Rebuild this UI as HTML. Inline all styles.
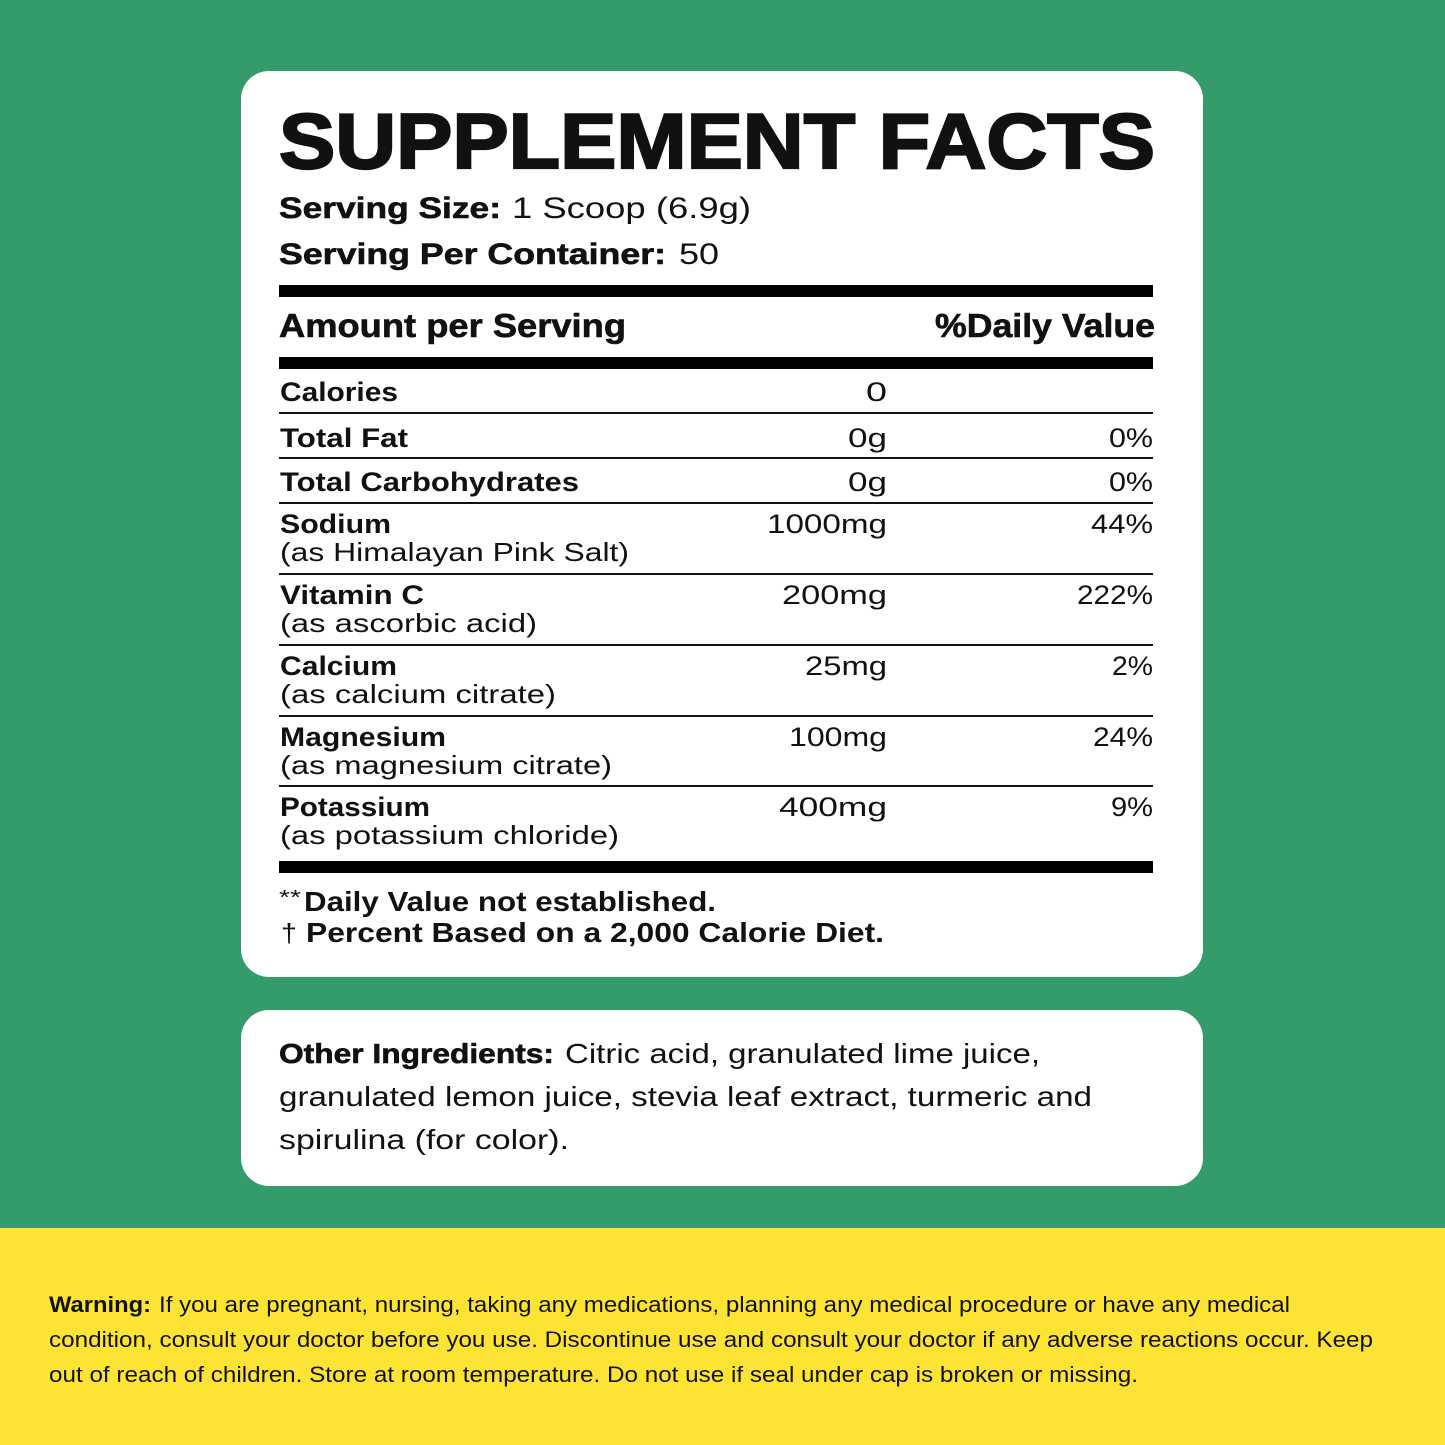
<!DOCTYPE html>
<html>
<head>
<meta charset="utf-8">
<style>
  html,body{margin:0;padding:0;background:#349b6a;}
  svg{display:block;}
  text{font-family:"Liberation Sans", "DejaVu Sans", sans-serif;fill:#111;}
  .b{font-weight:bold;}
  .t{font-weight:bold;stroke:#111;stroke-width:2.2;}
  .ob{font-weight:bold;stroke:#111;stroke-width:0.6;}
</style>
</head>
<body>
<svg width="1445" height="1445" viewBox="0 0 1445 1445" xmlns="http://www.w3.org/2000/svg">
  <rect x="0" y="0" width="1445" height="1445" fill="#349b6a"/>
  <rect x="0" y="1228" width="1445" height="217" fill="#fde334"/>

  <!-- Card 1 -->
  <rect x="241" y="71" width="962" height="906" rx="28" ry="28" fill="#ffffff"/>
  <!-- Card 2 -->
  <rect x="241" y="1010" width="962" height="176" rx="28" ry="28" fill="#ffffff"/>

  <!-- Title -->
  <text class="t" x="279" y="168" font-size="78" textLength="876" lengthAdjust="spacingAndGlyphs">SUPPLEMENT FACTS</text>

  <text class="ob" x="279" y="218" font-size="30" textLength="222" lengthAdjust="spacingAndGlyphs">Serving Size:</text>
  <text x="512" y="218" font-size="30" textLength="239" lengthAdjust="spacingAndGlyphs">1 Scoop (6.9g)</text>
  <text class="ob" x="279" y="264" font-size="30" textLength="387" lengthAdjust="spacingAndGlyphs">Serving Per Container:</text>
  <text x="679" y="264" font-size="30" textLength="40" lengthAdjust="spacingAndGlyphs">50</text>

  <!-- Bars -->
  <rect x="279" y="285" width="874" height="12" fill="#000"/>
  <text class="ob" x="279" y="337" font-size="33" textLength="347" lengthAdjust="spacingAndGlyphs">Amount per Serving</text>
  <text class="ob" x="1155" y="337" font-size="33" text-anchor="end" textLength="220" lengthAdjust="spacingAndGlyphs">%Daily Value</text>
  <rect x="279" y="357" width="874" height="12" fill="#000"/>

  <!-- thin lines -->
  <rect x="279" y="412" width="874" height="2" fill="#111"/>
  <rect x="279" y="457" width="874" height="2" fill="#111"/>
  <rect x="279" y="502" width="874" height="2" fill="#111"/>
  <rect x="279" y="573" width="874" height="2" fill="#111"/>
  <rect x="279" y="644" width="874" height="2" fill="#111"/>
  <rect x="279" y="715" width="874" height="2" fill="#111"/>
  <rect x="279" y="785" width="874" height="2" fill="#111"/>
  <rect x="279" y="861" width="874" height="12" fill="#000"/>

  <!-- Rows -->
  <text class="b" x="280" y="401" font-size="27" textLength="118" lengthAdjust="spacingAndGlyphs">Calories</text>
  <text x="887" y="401" font-size="27" text-anchor="end" textLength="21" lengthAdjust="spacingAndGlyphs">0</text>

  <text class="b" x="280" y="447" font-size="27" textLength="128" lengthAdjust="spacingAndGlyphs">Total Fat</text>
  <text x="887" y="447" font-size="27" text-anchor="end" textLength="39" lengthAdjust="spacingAndGlyphs">0g</text>
  <text x="1153" y="447" font-size="27" text-anchor="end" textLength="44" lengthAdjust="spacingAndGlyphs">0%</text>

  <text class="b" x="280" y="491" font-size="27" textLength="299" lengthAdjust="spacingAndGlyphs">Total Carbohydrates</text>
  <text x="887" y="491" font-size="27" text-anchor="end" textLength="39" lengthAdjust="spacingAndGlyphs">0g</text>
  <text x="1153" y="491" font-size="27" text-anchor="end" textLength="44" lengthAdjust="spacingAndGlyphs">0%</text>

  <text class="b" x="280" y="533" font-size="27" textLength="111" lengthAdjust="spacingAndGlyphs">Sodium</text>
  <text x="280" y="561" font-size="26" textLength="349" lengthAdjust="spacingAndGlyphs">(as Himalayan Pink Salt)</text>
  <text x="887" y="533" font-size="27" text-anchor="end" textLength="120" lengthAdjust="spacingAndGlyphs">1000mg</text>
  <text x="1153" y="533" font-size="27" text-anchor="end" textLength="62" lengthAdjust="spacingAndGlyphs">44%</text>

  <text class="b" x="280" y="604" font-size="27" textLength="144" lengthAdjust="spacingAndGlyphs">Vitamin C</text>
  <text x="280" y="632" font-size="26" textLength="257" lengthAdjust="spacingAndGlyphs">(as ascorbic acid)</text>
  <text x="887" y="604" font-size="27" text-anchor="end" textLength="105" lengthAdjust="spacingAndGlyphs">200mg</text>
  <text x="1153" y="604" font-size="27" text-anchor="end" textLength="76" lengthAdjust="spacingAndGlyphs">222%</text>

  <text class="b" x="280" y="675" font-size="27" textLength="117" lengthAdjust="spacingAndGlyphs">Calcium</text>
  <text x="280" y="703" font-size="26" textLength="276" lengthAdjust="spacingAndGlyphs">(as calcium citrate)</text>
  <text x="887" y="675" font-size="27" text-anchor="end" textLength="82" lengthAdjust="spacingAndGlyphs">25mg</text>
  <text x="1153" y="675" font-size="27" text-anchor="end" textLength="41" lengthAdjust="spacingAndGlyphs">2%</text>

  <text class="b" x="280" y="746" font-size="27" textLength="166" lengthAdjust="spacingAndGlyphs">Magnesium</text>
  <text x="280" y="774" font-size="26" textLength="332" lengthAdjust="spacingAndGlyphs">(as magnesium citrate)</text>
  <text x="887" y="746" font-size="27" text-anchor="end" textLength="98" lengthAdjust="spacingAndGlyphs">100mg</text>
  <text x="1153" y="746" font-size="27" text-anchor="end" textLength="60" lengthAdjust="spacingAndGlyphs">24%</text>

  <text class="b" x="280" y="816" font-size="27" textLength="150" lengthAdjust="spacingAndGlyphs">Potassium</text>
  <text x="280" y="844" font-size="26" textLength="339" lengthAdjust="spacingAndGlyphs">(as potassium chloride)</text>
  <text x="887" y="816" font-size="27" text-anchor="end" textLength="108" lengthAdjust="spacingAndGlyphs">400mg</text>
  <text x="1153" y="816" font-size="27" text-anchor="end" textLength="42" lengthAdjust="spacingAndGlyphs">9%</text>

  <!-- Footnotes -->
  <text x="279" y="904" font-size="20" textLength="22" lengthAdjust="spacingAndGlyphs">**</text>
  <text class="b" x="304" y="911" font-size="28" textLength="412" lengthAdjust="spacingAndGlyphs">Daily Value not established.</text>
  <text x="281" y="942" font-size="26" textLength="16" lengthAdjust="spacingAndGlyphs">†</text>
  <text class="b" x="306" y="942" font-size="28" textLength="578" lengthAdjust="spacingAndGlyphs">Percent Based on a 2,000 Calorie Diet.</text>

  <!-- Other ingredients -->
  <text class="ob" x="279" y="1063" font-size="28" textLength="275" lengthAdjust="spacingAndGlyphs">Other Ingredients:</text>
  <text x="565" y="1063" font-size="28" textLength="475" lengthAdjust="spacingAndGlyphs">Citric acid, granulated lime juice,</text>
  <text x="279" y="1106" font-size="28" textLength="813" lengthAdjust="spacingAndGlyphs">granulated lemon juice, stevia leaf extract, turmeric and</text>
  <text x="279" y="1149" font-size="28" textLength="290" lengthAdjust="spacingAndGlyphs">spirulina (for color).</text>

  <!-- Warning -->
  <text class="b" x="49" y="1312" font-size="22" textLength="102" lengthAdjust="spacingAndGlyphs">Warning:</text>
  <text x="159" y="1312" font-size="22" textLength="1131" lengthAdjust="spacingAndGlyphs">If you are pregnant, nursing, taking any medications, planning any medical procedure or have any medical</text>
  <text x="49" y="1347" font-size="22" textLength="1324" lengthAdjust="spacingAndGlyphs">condition, consult your doctor before you use. Discontinue use and consult your doctor if any adverse reactions occur. Keep</text>
  <text x="49" y="1382" font-size="22" textLength="1089" lengthAdjust="spacingAndGlyphs">out of reach of children. Store at room temperature. Do not use if seal under cap is broken or missing.</text>
</svg>
</body>
</html>
